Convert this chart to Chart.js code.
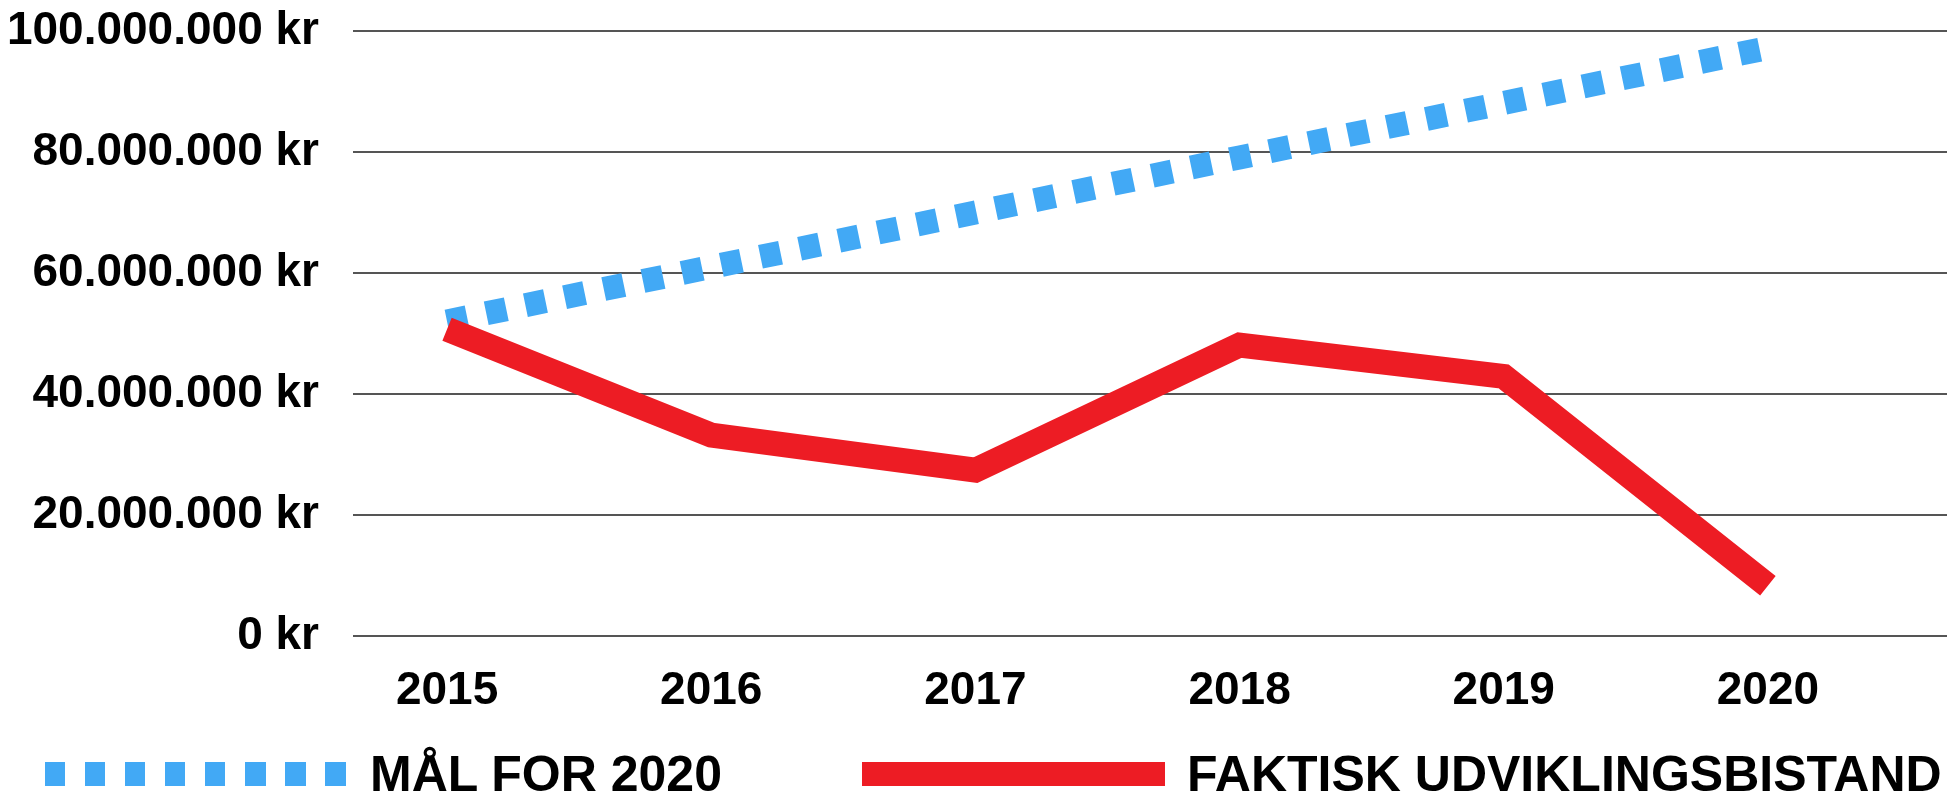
<!DOCTYPE html>
<html lang="da">
<head>
<meta charset="utf-8">
<title>Udviklingsbistand</title>
<script src="https://cdn.jsdelivr.net/npm/chart.js@4"></script>
<style>
  html, body { margin: 0; padding: 0; background: #fff; }
  #wrap { position: relative; width: 1947px; height: 795px; }
  #legend { position: absolute; left: 0; top: 0; width: 100%; height: 100%; pointer-events: none;
            font-family: "Liberation Sans", Arial, Helvetica, sans-serif; font-weight: 700; font-size: 50px; color: #000; }
  .lg-item { position: absolute; top: 749px; display: flex; align-items: center; height: 50px; line-height: 1; white-space: nowrap; }
  .lg-swatch { width: 303px; height: 24px; margin-right: 22px; }
</style>
</head>
<body>
<div id="wrap">
  <canvas id="chart"></canvas>
  <div id="legend"></div>
</div>
<script>
// data
const years = [2015, 2016, 2017, 2018, 2019, 2020];
const goalValues = [52000000, 61000000, 70000000, 79100000, 88100000, 97200000];
const actualValues = [50700000, 33200000, 27400000, 48100000, 42900000, 8300000];
const yTicks = [0, 20000000, 40000000, 60000000, 80000000, 100000000];

const goalLabel = 'MÅL FOR 2020';
const actualLabel = 'FAKTISK UDVIKLINGSBISTAND';
const goalColor = '#42A9F5';
const actualColor = '#ED1C24';

const fmtKr = v => String(v).replace(/\B(?=(\d{3})+(?!\d))/g, '.') + ' kr';
const tickFont = { family: '"Liberation Sans", Arial, Helvetica, sans-serif', size: 46, weight: 'bold' };

new Chart(document.getElementById('chart'), {
  type: 'line',
  data: {
    datasets: [
      { label: actualLabel, data: years.map((x, i) => ({ x, y: actualValues[i] })),
        borderColor: actualColor, borderWidth: 25, borderCapStyle: 'butt', borderJoinStyle: 'miter',
        pointRadius: 0, fill: false, tension: 0 },
      { label: goalLabel, data: years.map((x, i) => ({ x, y: goalValues[i] })),
        borderColor: goalColor, borderWidth: 24, borderDash: [20.5, 19.5], borderCapStyle: 'butt',
        pointRadius: 0, fill: false, tension: 0 },
    ],
  },
  options: {
    responsive: true,
    maintainAspectRatio: false,
    animation: false,
    devicePixelRatio: 1,
    layout: { padding: { top: 31, right: 0, bottom: 83, left: 0 } },
    plugins: { legend: { display: false }, tooltip: { enabled: false } },
    scales: {
      x: {
        type: 'linear', min: 2014.644, max: 2020.678,
        afterBuildTicks: s => { s.ticks = years.map(v => ({ value: v })); },
        afterFit: s => { s.height = 76; },
        grid: { display: false }, border: { display: false },
        ticks: { color: '#000', font: tickFont, padding: 20, maxRotation: 0, callback: v => String(v) },
      },
      y: {
        min: 0, max: 100000000,
        afterBuildTicks: s => { s.ticks = yTicks.map(v => ({ value: v })); },
        afterFit: s => { s.width = 353; s.paddingTop = 0; s.paddingBottom = 0; },
        grid: { color: '#555', lineWidth: 2, drawTicks: false }, border: { display: false },
        ticks: { color: '#000', font: tickFont, padding: 34, callback: v => fmtKr(v) },
      },
    },
  },
});

// legend below the plot
const legendItems = [
  { text: goalLabel, left: 45, swatch: `repeating-linear-gradient(to right, ${goalColor} 0 20.5px, transparent 20.5px 40px)` },
  { text: actualLabel, left: 862, swatch: actualColor },
];
document.getElementById('legend').innerHTML = legendItems.map(it => `
  <div class="lg-item" style="left:${it.left}px">
    <span class="lg-swatch" style="background:${it.swatch}"></span><span>${it.text}</span>
  </div>`).join('');
</script>
</body>
</html>
